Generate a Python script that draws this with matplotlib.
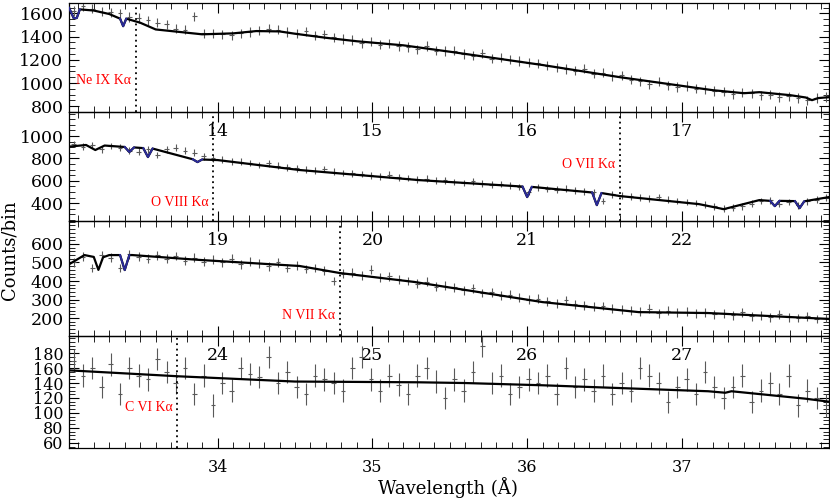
import numpy as np
import matplotlib
matplotlib.use("Agg")
import matplotlib.pyplot as plt
from matplotlib.ticker import MultipleLocator

plt.rcParams["font.family"] = ["DejaVu Serif"]

# ── Panel wavelength ranges (Angstrom) and bin grid ──
starts = [13.04, 18.04, 23.04, 33.04]
span = 4.91
bin_w = 0.06

# ── Observed counts per bin (one array per panel) ──
counts1 = [1620, 1660, 1640, 1615, 1610, 1600, 1570, 1560, 1540, 1520,
           1505, 1470, 1460, 1575, 1430, 1425, 1420, 1410, 1430, 1440,
           1450, 1470, 1460, 1440, 1430, 1445, 1410, 1420, 1395, 1380,
           1370, 1345, 1355, 1330, 1340, 1320, 1310, 1290, 1320, 1280,
           1275, 1280, 1250, 1235, 1255, 1210, 1220, 1200, 1190, 1175,
           1170, 1150, 1135, 1120, 1105, 1125, 1080, 1090, 1060, 1065,
           1030, 1015, 990, 1010, 980, 965, 975, 950, 945, 930,
           925, 905, 920, 910, 895, 900, 880, 885, 870, 850,
           870, 880]
counts2 = [930, 905, 920, 880, 910, 895, 870, 860, 880, 830,
           880, 895, 870, 850, 820, 800, 790, 775, 770, 760,
           740, 755, 735, 720, 710, 700, 690, 705, 680, 670,
           665, 660, 650, 640, 655, 630, 625, 610, 620, 600,
           605, 590, 580, 595, 575, 565, 570, 560, 545, 500,
           540, 525, 520, 530, 510, 505, 500, 420, 480, 465,
           460, 450, 440, 455, 430, 420, 410, 400, 385, 370,
           350, 360, 370, 395, 420, 425, 395, 410, 380, 415,
           430, 450]
counts3 = [500, 530, 470, 540, 525, 470, 545, 530, 520, 540,
           520, 535, 510, 525, 505, 515, 500, 520, 490, 505,
           495, 480, 500, 470, 485, 465, 470, 455, 400, 440,
           445, 430, 460, 420, 425, 410, 400, 385, 395, 370,
           375, 365, 350, 360, 335, 340, 320, 325, 310, 300,
           305, 290, 280, 295, 275, 270, 260, 265, 250, 245,
           240, 235, 250, 225, 240, 230, 235, 225, 230, 220,
           225, 215, 230, 210, 215, 205, 220, 205, 200, 210,
           195, 200]
counts4 = [170, 150, 160, 135, 165, 125, 160, 150, 145, 172,
           155, 140, 160, 125, 150, 110, 140, 130, 160, 152,
           148, 175, 140, 155, 135, 125, 150, 145, 140, 130,
           160, 175, 145, 130, 150, 138, 125, 150, 160, 142,
           120, 145, 130, 155, 190, 140, 150, 125, 135, 145,
           140, 150, 125, 160, 135, 145, 130, 150, 125, 140,
           130, 160, 150, 140, 115, 135, 145, 125, 155, 135,
           120, 135, 150, 115, 130, 140, 125, 150, 110, 130,
           120, 110]
errors = [40, 30, 24, 15]

# ── Model curve knots ──
mod1_x = [13.04, 13.07, 13.09, 13.11, 13.2, 13.3, 13.37, 13.39, 13.41, 13.5, 13.6, 13.9, 14.1,
          14.25, 14.4, 14.5, 14.7, 14.9, 15.2, 15.5, 16.1, 16.6, 17.2, 17.4, 17.5,
          17.7, 17.8, 17.84, 17.88, 17.95]
mod1_y = [1650, 1560, 1560, 1635, 1625, 1595, 1555, 1490, 1555, 1520, 1462, 1420, 1428,
          1448, 1445, 1425, 1390, 1360, 1325, 1270, 1155, 1050, 938, 912, 921,
          895, 875, 852, 870, 878]
mod2_x = [18.04, 18.15, 18.21, 18.27, 18.40, 18.43, 18.46, 18.52, 18.55, 18.58, 18.84, 18.87,
          18.90, 19.0, 19.53, 20.3, 20.97, 21.0, 21.03, 21.42, 21.45, 21.48, 21.6, 22.11,
          22.27, 22.5, 22.57, 22.6, 22.63, 22.73, 22.76, 22.79, 22.95]
mod2_y = [905, 920, 875, 915, 902, 857, 898, 892, 812, 888, 792, 767,
          790, 785, 696, 606, 548, 454, 545, 495, 382, 490, 463, 391,
          346, 427, 420, 373, 420, 418, 355, 416, 454]
mod3_x = [23.04, 23.14, 23.2, 23.23, 23.26, 23.3, 23.37, 23.40, 23.43, 23.45, 23.88, 24.53,
          24.79, 25.27, 26.1, 26.72, 27.17, 27.95]
mod3_y = [490, 540, 530, 460, 528, 540, 540, 459, 540, 540, 514, 481,
          443, 395, 286, 232, 227, 195]
mod4_x = [33.04, 33.75, 34.5, 35.3, 35.6, 36.1, 37.17, 37.28, 37.32, 37.8, 37.95]
mod4_y = [157, 149, 142, 141, 140, 137, 129, 127, 129, 119, 115]

# ── Absorption features drawn in blue (knot index ranges into the model arrays) ──
blue1 = [(0, 3), (6, 8)]
blue2 = [(4, 6), (7, 9), (10, 12), (16, 18), (19, 21), (26, 28), (29, 31)]
blue3 = [(6, 8)]

# ── Line identifications ──
lines = [(0, 13.47, "Ne IX K\u03b1", 0.29), (1, 18.97, "O VIII K\u03b1", 0.17),
         (1, 21.60, "O VII K\u03b1", 0.52), (2, 24.79, "N VII K\u03b1", 0.18),
         (3, 33.74, "C VI K\u03b1", 0.36)]

ylims = [(750, 1690), (240, 1215), (103, 724), (53, 203)]
ymajor = [200, 200, 100, 20]
yminor = [50, 50, 20, 5]

counts = [counts1, counts2, counts3, counts4]
models = [(mod1_x, mod1_y), (mod2_x, mod2_y), (mod3_x, mod3_y), (mod4_x, mod4_y)]
blues = [blue1, blue2, blue3, []]

fig = plt.figure(figsize=(8.3, 5.0), dpi=100)
edges = [3, 112, 221, 336, 448]
axes = []
for i in range(4):
    top, bot = edges[i], edges[i + 1]
    ax = fig.add_axes([69 / 830, 1 - bot / 500, 760 / 830, (bot - top) / 500])
    ax.set_facecolor("none")
    axes.append(ax)

    c = np.array(counts[i])
    lam = starts[i] + 0.03 + bin_w * np.arange(len(c))
    ax.errorbar(lam, c, yerr=errors[i], xerr=bin_w / 4, fmt="none",
                ecolor="0.35", elinewidth=0.8)
    mx, my = models[i]
    ax.plot(mx, my, color="black", lw=1.6, zorder=3)
    for a, b in blues[i]:
        ax.plot(mx[a:b + 1], my[a:b + 1], color="#2b2b9a", lw=1.4, zorder=4)

    ax.set_xlim(starts[i], starts[i] + span)
    ax.set_ylim(*ylims[i])
    ax.xaxis.set_major_locator(MultipleLocator(1))
    ax.xaxis.set_minor_locator(MultipleLocator(0.1))
    ax.yaxis.set_minor_locator(MultipleLocator(yminor[i]))
    ax.tick_params(which="both", direction="in", top=True, right=True,
                   labelsize=11.5 if i == 3 else 12.5)
    ax.tick_params(which="major", length=7, pad=8)
    ax.tick_params(which="minor", length=4)
    ax.tick_params(axis="y", pad=4)
    for s in ax.spines.values():
        s.set_linewidth(0.9)

    # keep y labels off the panel edges
    lo, hi = ylims[i]
    ticks = [t for t in np.arange(0, 2000, ymajor[i]) if lo + 0.03 * (hi - lo) < t < hi - 0.08 * (hi - lo)]
    ax.set_yticks(ticks)

for p, wl, label, yfrac in lines:
    ax = axes[p]
    ax.axvline(wl, color="black", ls=(0, (1, 2)), lw=1.3)
    ax.text(wl - 0.03, yfrac, label, transform=ax.get_xaxis_transform(),
            ha="right", va="center", color="red", fontsize=10,
            family=["Liberation Serif", "DejaVu Serif"])

fig.text(0.012, 0.5, "Counts/bin", rotation=90, ha="center", va="center", fontsize=13)
fig.text(0.54, 0.024, "Wavelength (\u00c5)", ha="center", va="center", fontsize=13)

plt.savefig("out.png", dpi=100)
